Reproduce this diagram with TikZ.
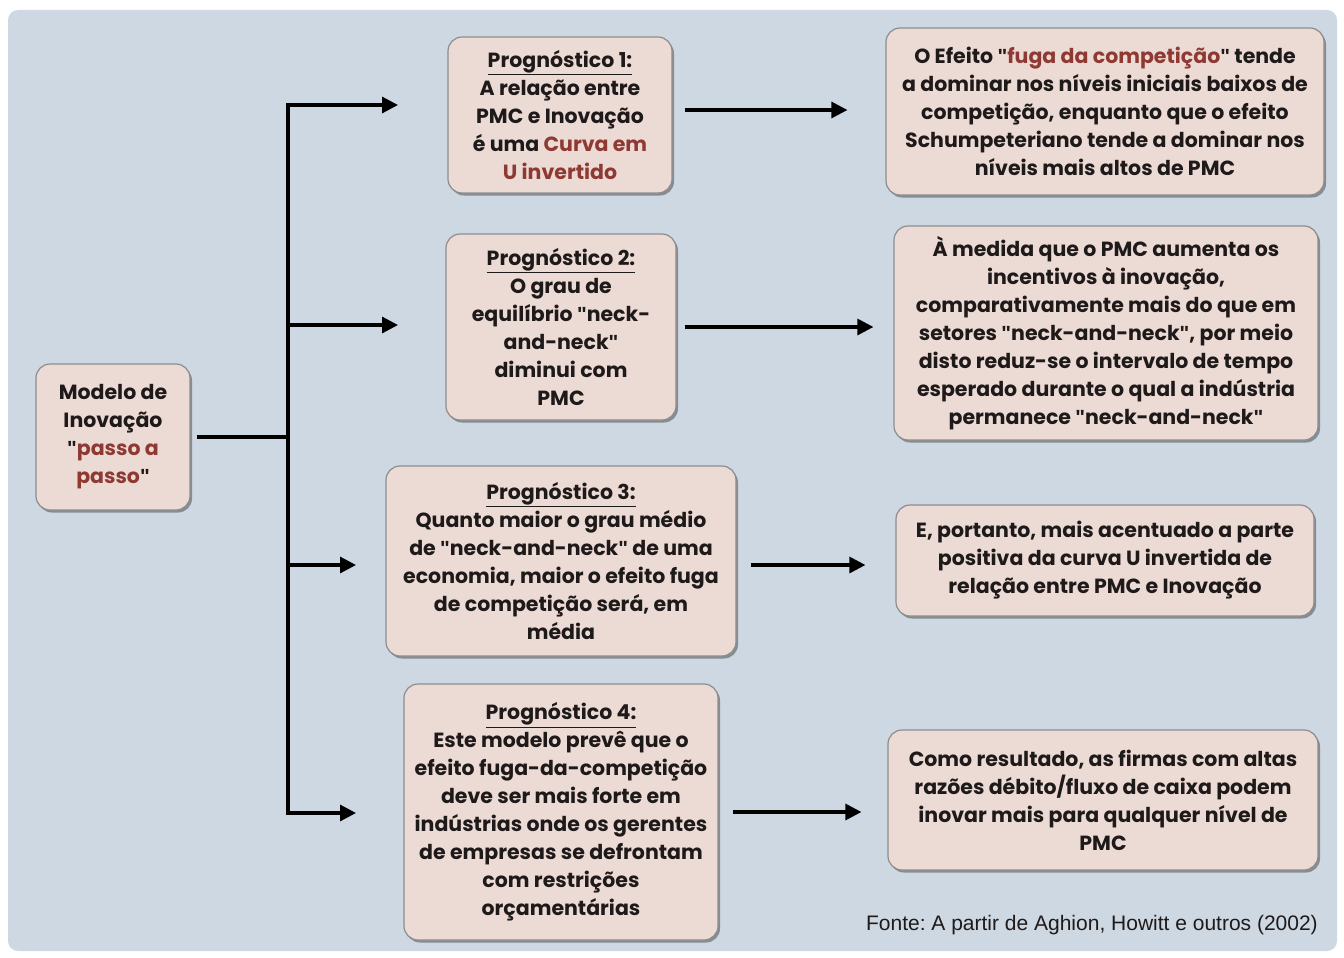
\documentclass[tikz,border=0pt]{standalone}
\usepackage{fontspec}
\setmainfont{Poppins}
\newfontfamily\quotefont{Liberation Sans}
\usetikzlibrary{arrows.meta,shadows,calc}
\definecolor{panel}{HTML}{CED8E2}
\definecolor{boxfill}{HTML}{ECDAD5}
\definecolor{boxline}{HTML}{8C8C8C}
\definecolor{hl}{HTML}{8E3A33}
\definecolor{ink}{HTML}{1E1A1A}
\newcommand{\hlt}[1]{\textcolor{hl}{#1}}
\newcommand{\prog}[1]{\underline{Prognóstico #1:}}
\newcommand{\qq}{{\quotefont\bfseries"}}
\frenchspacing
\begin{document}
\begin{tikzpicture}[x=1pt,y=-1pt,
  card/.style={draw=boxline, line width=1.2pt, fill=boxfill, rounded corners=14pt,
    align=center, inner sep=0pt, text=ink,
    font=\fontsize{20.5}{28}\selectfont\bfseries,
    drop shadow={shadow xshift=2pt, shadow yshift=-2.5pt, opacity=0.35, fill=black}},
  link/.style={line width=3.2pt, draw=black},
  arr/.style={link, -{Triangle[length=16pt,width=16pt]}},
  darr/.style={link, {Triangle[length=16pt,width=16pt]}-{Triangle[length=16pt,width=16pt]}}]
  % canvas and panel
  \useasboundingbox (0,0) rectangle (1344,958);
  \fill[white] (0,0) rectangle (1344,958);
  \fill[panel, rounded corners=10pt] (8,10) rectangle (1337,951);

  % model box
  \node[card, minimum width=154pt, minimum height=146pt] (m) at (113,437)
    {Modelo de\\Inovação\\\qq\hlt{passo a}\\\hlt{passo}\qq};

  % prognostics
  \node[card, minimum width=224pt, minimum height=156pt] (p1) at (560,115)
    {\prog{1}\\A relação entre\\PMC e Inovação\\é uma \hlt{Curva em}\\\hlt{U invertido}};
  \node[card, minimum width=230pt, minimum height=186pt] (p2) at (561,327)
    {\prog{2}\\O grau de\\equilíbrio \qq neck-\\and-neck\qq\\diminui com\\PMC};
  \node[card, minimum width=350pt, minimum height=190pt] (p3) at (561,561)
    {\prog{3}\\Quanto maior o grau médio\\de \qq neck-and-neck\qq{} de uma\\economia, maior o efeito fuga\\de competição será, em\\média};
  \node[card, minimum width=314pt, minimum height=256pt] (p4) at (561,812)
    {\prog{4}\\Este modelo prevê que o\\efeito fuga-da-competição\\deve ser mais forte em\\indústrias onde os gerentes\\de empresas se defrontam\\com restrições\\orçamentárias};

  % consequences
  \node[card, minimum width=438pt, minimum height=167pt] (r1) at (1105,111.5)
    {O Efeito \qq\hlt{fuga da competição}\qq{} tende\\a dominar nos níveis iniciais baixos de\\competição, enquanto que o efeito\\Schumpeteriano tende a dominar nos\\níveis mais altos de PMC};
  \node[card, minimum width=424pt, minimum height=214pt] (r2) at (1106,333)
    {À medida que o PMC aumenta os\\incentivos à inovação,\\comparativamente mais do que em\\setores \qq neck-and-neck\qq, por meio\\disto reduz-se o intervalo de tempo\\esperado durante o qual a indústria\\permanece \qq neck-and-neck\qq};
  \node[card, minimum width=418pt, minimum height=111pt] (r3) at (1105,560.5)
    {E, portanto, mais acentuado a parte\\positiva da curva U invertida de\\relação entre PMC e Inovação};
  \node[card, minimum width=430pt, minimum height=140pt] (r4) at (1103,800)
    {Como resultado, as firmas com altas\\razões débito/fluxo de caixa podem\\inovar mais para qualquer nível de\\PMC};

  % source line
  \node[anchor=south east, inner sep=0pt, text=ink,
        font=\quotefont\fontsize{21}{22}\selectfont] (src) at (1318,935)
    {Fonte: A partir de Aghion, Howitt e outros (2002)};

  % branching connectors
  \coordinate (t) at (288,437);
  \coordinate (t1) at (288,105);
  \coordinate (t2) at (288,325);
  \coordinate (t3) at (288,565);
  \coordinate (t4) at (288,813);
  \coordinate (b1) at (398,105);
  \coordinate (b2) at (398,325);
  \coordinate (b3) at (356,565);
  \coordinate (b4) at (356,813);
  \draw[link, shorten <=6pt] (m.east) -- (t);
  \draw[darr, line join=miter] (b1) -- (t1) -- (t4) -- (b4);
  \draw[arr] (t2) -- (b2);
  \draw[arr] (t3) -- (b3);

  % prognostic to consequence
  \draw[arr, shorten <=12pt, shorten >=38pt] ($(p1.east)+(0,-5)$) -- ($(r1.west |- p1.east)+(0,-5)$);
  \draw[arr, shorten <=8pt, shorten >=20pt] (p2.east) -- (r2.west |- p2.east);
  \draw[arr, shorten <=14pt, shorten >=30pt] ($(p3.east)+(0,4)$) -- ($(r3.west |- p3.east)+(0,4)$);
  \draw[arr, shorten <=14pt, shorten >=26pt] (p4.east) -- (r4.west |- p4.east);
\end{tikzpicture}
\end{document}
